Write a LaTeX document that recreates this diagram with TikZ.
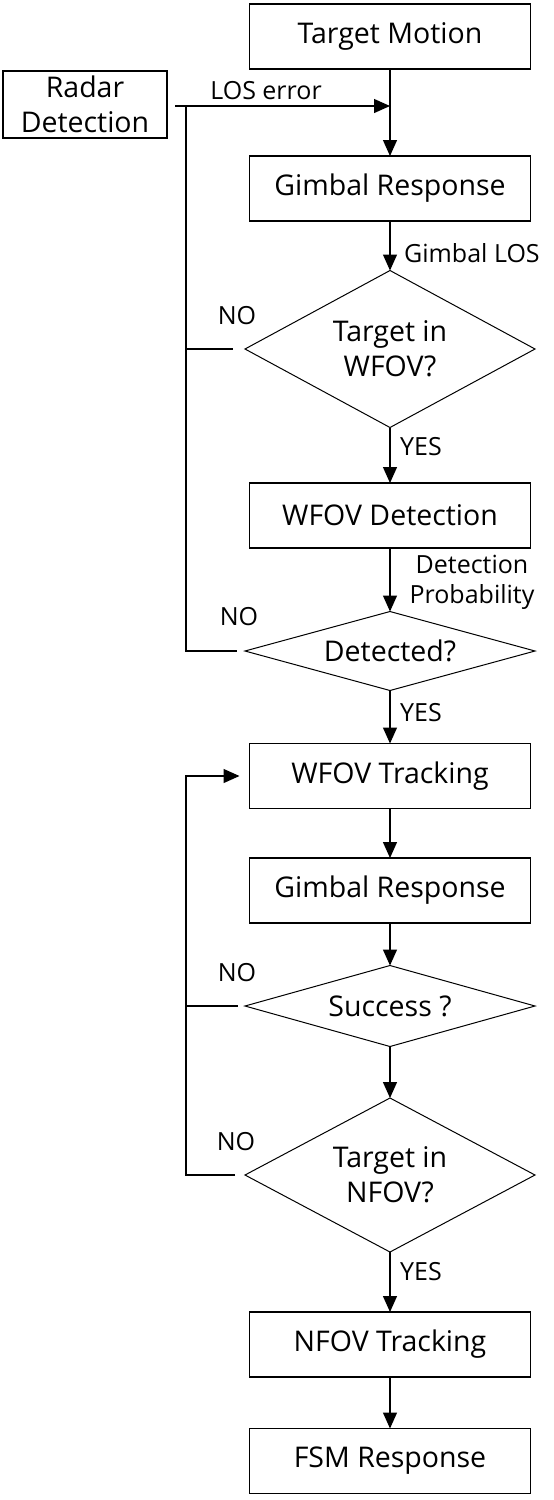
\documentclass[tikz,border=0pt]{standalone}
\usepackage{fontspec}
\setmainfont{Open Sans}
\usetikzlibrary{
  shapes.geometric,
  arrows.meta
}
\newcommand\boxfont{\fontsize{28.5}{35}\selectfont}
\newcommand\tagfont{\fontsize{25}{30}\selectfont}
\tikzset{
  block/.style={draw,line width=1.3pt,minimum width=281pt,minimum height=65pt,
    inner sep=2pt,outer sep=0pt,align=center,font=\boxfont},
  decision/.style={diamond,draw,line width=1pt,minimum width=290pt,aspect=2,
    inner sep=0pt,outer sep=0pt,align=center,font=\boxfont},
  flowtag/.style={inner sep=0pt,align=center,font=\tagfont},
  flowline/.style={line width=1.3pt},
  flowarrow/.style={flowline,-{Triangle[length=16pt,width=14pt]}},
}

\begin{document}
\begin{tikzpicture}[x=1pt,y=-1pt]
\useasboundingbox (0,0) rectangle (554,1500);

\node[block] (target) at (390,36.5) {Target Motion};
\node[block,minimum width=164pt,minimum height=67pt] (radar) at (85,104.5) {Radar\\Detection};
\node[block] (gimbal-a) at (390,188.5) {Gimbal Response};
\node[decision,minimum height=157pt] (in-wfov) at (390,349) {Target in\\WFOV?};
\node[block] (wfov-det) at (390,515.5) {WFOV Detection};
\node[decision,minimum height=79pt,aspect=3.6] (detected) at (390,651) {Detected?};
\node[block] (wfov-trk) at (390,776) {WFOV Tracking};
\node[block] (gimbal-b) at (390,890.5) {Gimbal Response};
\node[decision,minimum height=81pt,aspect=3.6] (success) at (390,1006) {Success ?};
\node[decision,minimum height=154pt] (in-nfov) at (390,1175) {Target in\\NFOV?};
\node[block] (nfov-trk) at (390,1344.5) {NFOV Tracking};
\node[block] (fsm) at (390,1461) {FSM Response};

\coordinate (los) at (390,106);
\coordinate (loop-top) at (186,106);

\draw[flowarrow] (target) -- (gimbal-a);
\draw[flowarrow,shorten <=8pt] (radar.east |- los) -- (los);
\draw[flowarrow] (gimbal-a) -- (in-wfov);
\draw[flowarrow] (in-wfov) -- (wfov-det);
\draw[flowarrow] (wfov-det) -- (detected);
\draw[flowarrow] (detected) -- (wfov-trk);
\draw[flowarrow] (wfov-trk) -- (gimbal-b);
\draw[flowarrow] (gimbal-b) -- (success);
\draw[flowarrow] (success) -- (in-nfov);
\draw[flowarrow] (in-nfov) -- (nfov-trk);
\draw[flowarrow] (nfov-trk) -- (fsm);

% NO branches
\draw[flowline] (loop-top) |- ([xshift=-8pt]detected.west);
\draw[flowline] (loop-top |- in-wfov.west) -- ([xshift=-12pt]in-wfov.west);
\draw[flowarrow] ([xshift=-10pt]in-nfov.west) -| (loop-top |- wfov-trk.west) -- ([xshift=-10pt]wfov-trk.west);
\draw[flowline] (loop-top |- success.west) -- ([xshift=-7pt]success.west);

\node[flowtag] (tag-los) at (266,91) {LOS error};
\node[flowtag,anchor=west] (tag-glos) at (404,253) {Gimbal LOS};
\node[flowtag,anchor=west] (tag-yes-a) at (400,447) {YES};
\node[flowtag] (tag-prob) at (472,582) {Detection\\Probability};
\node[flowtag,anchor=west] (tag-yes-b) at (400,713) {YES};
\node[flowtag,anchor=west] (tag-yes-c) at (400,1272) {YES};
\node[flowtag] (tag-no-a) at (237,316) {NO};
\node[flowtag] (tag-no-b) at (239,617) {NO};
\node[flowtag] (tag-no-c) at (237,973) {NO};
\node[flowtag] (tag-no-d) at (236,1142) {NO};
\end{tikzpicture}
\end{document}
